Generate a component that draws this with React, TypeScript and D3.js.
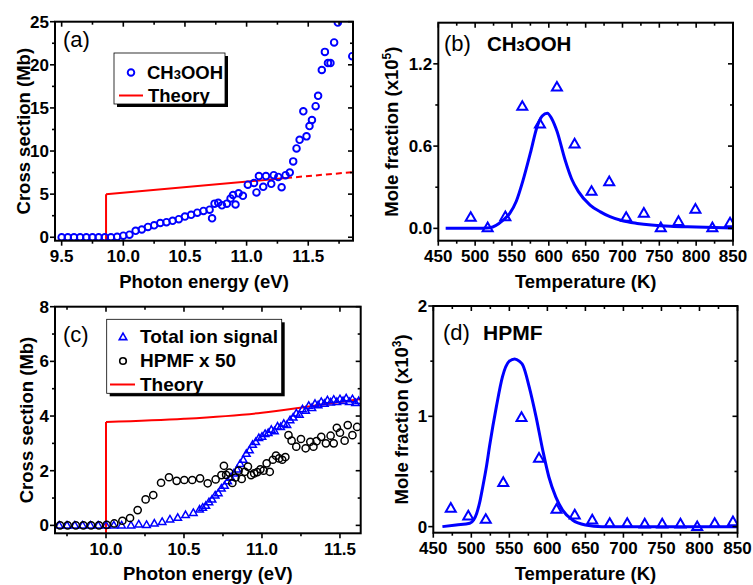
import React from 'react';
import * as d3 from 'd3';

const FONT = '"Liberation Sans", Arial, Helvetica, sans-serif';
const BLUE = '#0000ff';
const RED = '#ff0000';

// ---------- Panel (a) ----------
const aEnergy = [9.50, 9.55, 9.60, 9.65, 9.70, 9.75, 9.80, 9.85, 9.90, 9.95, 10.00, 10.05, 10.10, 10.15, 10.20, 10.25, 10.30, 10.35, 10.40, 10.45, 10.50, 10.55, 10.60, 10.65, 10.70, 10.72, 10.74, 10.77, 10.80, 10.84, 10.87, 10.89, 10.91, 10.935, 10.97, 11.01, 11.06, 11.08, 11.10, 11.135, 11.157, 11.20, 11.22, 11.257, 11.284, 11.316, 11.35, 11.378, 11.405, 11.43, 11.46, 11.486, 11.51, 11.53, 11.56, 11.58, 11.61, 11.635, 11.66, 11.68, 11.71, 11.74, 11.857];
const aCross = [0, 0, 0, 0, 0, 0, 0, 0, 0, 0.05, 0.18, 0.3, 0.75, 0.9, 1.2, 1.38, 1.65, 1.75, 1.9, 2.1, 2.4, 2.6, 2.85, 3.05, 3.2, 2.2, 3.9, 4.0, 3.7, 3.9, 4.5, 4.9, 3.8, 5.1, 4.8, 6.1, 6.3, 5.2, 7.1, 5.85, 7.1, 6.2, 7.2, 7.0, 5.8, 7.2, 7.5, 8.8, 10.3, 11.3, 14.6, 11.7, 12.9, 13.6, 15.2, 16.4, 19.4, 21.5, 20.2, 20.2, 22.6, 24.9, 21.0];
const aTheorySolidE = [9.86, 11.32];
const aTheorySolidY = [5.0, 6.87];
const aTheoryDashE = [11.32, 11.86];
const aTheoryDashY = [6.87, 7.55];
const aXTicks = [9.5, 10.0, 10.5, 11.0, 11.5];
const aXMinor = [9.75, 10.25, 10.75, 11.25, 11.75];
const aYTicks = [0, 5, 10, 15, 20, 25];
const aYMinor = [2.5, 7.5, 12.5, 17.5, 22.5];

// ---------- Panel (b) ----------
const bTemp = [494, 517, 541, 564, 588, 611, 635, 658, 682, 705, 729, 752, 776, 799, 822, 846];
const bMole = [0.08, 0.005, 0.085, 0.89, 0.76, 1.03, 0.615, 0.27, 0.34, 0.08, 0.11, 0.005, 0.05, 0.14, 0.005, 0.04];
const bFitT = [460, 500, 520, 538, 547, 556, 565, 575, 584, 591, 598, 604, 611, 622, 631, 640, 656, 670, 683, 700, 720, 765, 800, 850];
const bFitY = [0, 0, 0.005, 0.06, 0.11, 0.2, 0.35, 0.55, 0.74, 0.82, 0.84, 0.8, 0.71, 0.5, 0.36, 0.27, 0.17, 0.12, 0.085, 0.055, 0.036, 0.015, 0.01, 0.003];
const bXTicks = [450, 500, 550, 600, 650, 700, 750, 800, 850];
const bXMinor = [475, 525, 575, 625, 675, 725, 775, 825];
const bYTicks = [0, 0.6, 1.2];
const bYMinor = [0.3, 0.9];

// ---------- Panel (c) ----------
const cTotalE = [9.70, 9.75, 9.80, 9.85, 9.90, 9.95, 10.00, 10.05, 10.10, 10.16, 10.21, 10.26, 10.31, 10.36, 10.41, 10.46, 10.51, 10.56, 10.60, 10.62, 10.64, 10.66, 10.68, 10.70, 10.72, 10.74, 10.76, 10.78, 10.80, 10.82, 10.84, 10.86, 10.88, 10.90, 10.92, 10.94, 10.96, 10.98, 11.00, 11.02, 11.04, 11.06, 11.08, 11.10, 11.12, 11.14, 11.16, 11.18, 11.20, 11.22, 11.24, 11.26, 11.28, 11.30, 11.32, 11.34, 11.36, 11.38, 11.40, 11.42, 11.44, 11.46, 11.48, 11.50, 11.52, 11.54, 11.56, 11.58, 11.60, 11.62];
const cTotalY = [0, 0, 0, 0, 0, 0, 0, 0, 0, 0, 0.04, 0.02, 0.07, 0.13, 0.22, 0.28, 0.38, 0.46, 0.58, 0.65, 0.72, 0.85, 0.95, 1.1, 1.18, 1.35, 1.45, 1.62, 1.75, 1.9, 2.05, 2.25, 2.4, 2.62, 2.75, 2.95, 3.05, 3.2, 3.25, 3.35, 3.38, 3.5, 3.45, 3.62, 3.6, 3.72, 3.68, 3.85, 3.95, 4.1, 4.05, 4.25, 4.2, 4.38, 4.3, 4.45, 4.4, 4.52, 4.45, 4.58, 4.5, 4.6, 4.52, 4.62, 4.55, 4.65, 4.52, 4.62, 4.48, 4.55];
const cHpmfE = [9.705, 9.754, 9.806, 9.855, 9.904, 9.955, 10.004, 10.053, 10.105, 10.154, 10.203, 10.254, 10.303, 10.353, 10.404, 10.453, 10.502, 10.553, 10.603, 10.652, 10.703, 10.74, 10.756, 10.77, 10.79, 10.81, 10.83, 10.85, 10.87, 10.89, 10.91, 10.93, 10.95, 10.97, 10.99, 11.01, 11.03, 11.05, 11.07, 11.09, 11.11, 11.13, 11.15, 11.17, 11.19, 11.22, 11.25, 11.28, 11.31, 11.33, 11.35, 11.38, 11.41, 11.44, 11.46, 11.48, 11.50, 11.53, 11.55, 11.58, 11.61];
const cHpmfY = [0, 0, 0, 0, 0, 0, 0.02, 0.07, 0.17, 0.27, 0.56, 0.95, 1.11, 1.56, 1.76, 1.63, 1.66, 1.66, 1.72, 1.54, 1.68, 1.84, 2.18, 1.85, 1.93, 1.55, 1.75, 2.0, 1.7, 1.96, 2.15, 1.84, 1.9, 1.95, 2.05, 2.0, 2.27, 1.96, 2.4, 2.55, 2.45, 2.4, 2.5, 3.3, 3.1, 2.88, 3.16, 2.82, 3.06, 2.88, 3.08, 3.24, 3.0, 3.28, 3.0, 3.57, 3.39, 3.1, 3.67, 3.3, 3.6];
const cTheoryE = [10.0, 10.5, 11.0, 11.3, 11.633];
const cTheoryY = [3.78, 3.9, 4.12, 4.35, 4.62];
const cXTicks = [10.0, 10.5, 11.0, 11.5];
const cXMinor = [9.75, 10.25, 10.75, 11.25];
const cYTicks = [0, 2, 4, 6, 8];
const cYMinor = [1, 3, 5, 7];

// ---------- Panel (d) ----------
const dTemp = [473, 496, 519, 542, 566, 589, 612, 636, 659, 682, 705, 728, 751, 775, 797, 820, 844];
const dMole = [0.166, 0.097, 0.066, 0.40, 0.99, 0.62, 0.157, 0.106, 0.06, 0.03, 0.03, 0.024, 0.024, 0.024, 0.0, 0.03, 0.045];
const dFitT = [462, 480, 498, 503, 507, 511, 515, 520, 524, 533, 541, 550, 557, 563, 568, 576, 585, 594, 602, 611, 620, 633, 650, 672, 850];
const dFitY = [0, 0.015, 0.03, 0.06, 0.12, 0.22, 0.36, 0.55, 0.73, 1.09, 1.36, 1.5, 1.52, 1.5, 1.46, 1.27, 1.0, 0.69, 0.45, 0.27, 0.15, 0.06, 0.015, 0.0, 0.0];
const dXTicks = [450, 500, 550, 600, 650, 700, 750, 800, 850];
const dXMinor = [475, 525, 575, 625, 675, 725, 775, 825];
const dYTicks = [0, 1, 2];
const dYMinor = [0.5, 1.5];

type Box = { l: number; r: number; t: number; b: number };

const TICK_FS = 17;
const TITLE_FS = 18.5;

function triPath(s: number) {
  const h = (s * Math.sqrt(3)) / 2;
  return `M0,${-h * 0.6}L${s / 2},${h * 0.4}L${-s / 2},${h * 0.4}Z`;
}

function Frame(props: {
  id: string;
  box: Box;
  x: d3.ScaleLinear<number, number>;
  y: d3.ScaleLinear<number, number>;
  xTicks: number[];
  xMinor: number[];
  yTicks: number[];
  yMinor: number[];
  xFmt: (v: number) => string;
  yFmt: (v: number) => string;
  xTitle: string;
  yTitle: React.ReactNode;
  yTitleX: number;
  children?: React.ReactNode;
}) {
  const { id, box, x, y, xTicks, xMinor, yTicks, yMinor, xFmt, yFmt, xTitle, yTitle, yTitleX } = props;
  const tk = { stroke: '#000', strokeWidth: 1.6 };
  return (
    <g>
      <defs>
        <clipPath id={id}>
          <rect x={box.l} y={box.t} width={box.r - box.l} height={box.b - box.t} />
        </clipPath>
      </defs>
      <g clipPath={`url(#${id})`}>{props.children}</g>
      <rect x={box.l} y={box.t} width={box.r - box.l} height={box.b - box.t} fill="none" stroke="#000" strokeWidth={2} />
      {xTicks.map((v) => (
        <g key={'xt' + v}>
          <line x1={x(v)} x2={x(v)} y1={box.b} y2={box.b + 5} {...tk} />
          <line x1={x(v)} x2={x(v)} y1={box.t} y2={box.t + 5} {...tk} />
          <text x={x(v)} y={box.b + 21.5} textAnchor="middle" fontSize={TICK_FS} fontWeight="bold" fontFamily={FONT}>
            {xFmt(v)}
          </text>
        </g>
      ))}
      {xMinor.map((v) => (
        <g key={'xm' + v}>
          <line x1={x(v)} x2={x(v)} y1={box.b} y2={box.b + 3} {...tk} />
          <line x1={x(v)} x2={x(v)} y1={box.t} y2={box.t + 3} {...tk} />
        </g>
      ))}
      {yTicks.map((v) => (
        <g key={'yt' + v}>
          <line x1={box.l} x2={box.l - 5} y1={y(v)} y2={y(v)} {...tk} />
          <line x1={box.r} x2={box.r - 5} y1={y(v)} y2={y(v)} {...tk} />
          <text x={box.l - 6} y={y(v)} dy="0.36em" textAnchor="end" fontSize={TICK_FS} fontWeight="bold" fontFamily={FONT}>
            {yFmt(v)}
          </text>
        </g>
      ))}
      {yMinor.map((v) => (
        <g key={'ym' + v}>
          <line x1={box.l} x2={box.l - 3} y1={y(v)} y2={y(v)} {...tk} />
          <line x1={box.r} x2={box.r - 3} y1={y(v)} y2={y(v)} {...tk} />
        </g>
      ))}
      <text x={(box.l + box.r) / 2} y={box.b + 47} textAnchor="middle" fontSize={TITLE_FS} fontWeight="bold" fontFamily={FONT}>
        {xTitle}
      </text>
      <text
        transform={`translate(${yTitleX},${(box.t + box.b) / 2}) rotate(-90)`}
        textAnchor="middle"
        dy="0.36em"
        fontSize={TITLE_FS}
        fontWeight="bold"
        fontFamily={FONT}
      >
        {yTitle}
      </text>
    </g>
  );
}

function LegendBox({ x0, y0, x1, y1 }: { x0: number; y0: number; x1: number; y1: number }) {
  return (
    <g>
      <rect x={x0 + 3} y={y0 + 3} width={x1 - x0} height={y1 - y0} fill="#000" />
      <rect x={x0} y={y0} width={x1 - x0} height={y1 - y0} fill="#fff" stroke="#000" strokeWidth={0.8} />
    </g>
  );
}

export default function App() {
  // Panel a
  const aBox: Box = { l: 55, r: 353, t: 21.7, b: 240.7 };
  const ax = d3.scaleLinear().domain([9.446, 11.863]).range([aBox.l, aBox.r]);
  const ay = d3.scaleLinear().domain([-0.4, 25]).range([aBox.b, aBox.t]);
  const aLine = d3.line<number>().x((d, i) => ax(aTheorySolidE[i])).y((d) => ay(d));
  const aDash = d3.line<number>().x((d, i) => ax(aTheoryDashE[i])).y((d) => ay(d));

  // Panel b
  const bBox: Box = { l: 438.3, r: 733, t: 22.7, b: 240.7 };
  const bx = d3.scaleLinear().domain([450, 850]).range([bBox.l, bBox.r]);
  const by = d3.scaleLinear().domain([-0.09, 1.5]).range([bBox.b, bBox.t]);
  const bLine = d3
    .line<number>()
    .x((d, i) => bx(bFitT[i]))
    .y((d) => by(d))
    .curve(d3.curveMonotoneX);

  // Panel c
  const cBox: Box = { l: 55, r: 360.7, t: 306.7, b: 533.3 };
  const cx = d3.scaleLinear().domain([9.673, 11.633]).range([cBox.l, cBox.r]);
  const cy = d3.scaleLinear().domain([-0.29, 8]).range([cBox.b, cBox.t]);
  const cLine = d3
    .line<number>()
    .x((d, i) => cx(cTheoryE[i]))
    .y((d) => cy(d))
    .curve(d3.curveMonotoneX);

  // Panel d
  const dBox: Box = { l: 433.3, r: 737.5, t: 306, b: 532.7 };
  const dx = d3.scaleLinear().domain([450, 850]).range([dBox.l, dBox.r]);
  const dy = d3.scaleLinear().domain([-0.055, 2]).range([dBox.b, dBox.t]);
  const dLine = d3
    .line<number>()
    .x((d, i) => dx(dFitT[i]))
    .y((d) => dy(d))
    .curve(d3.curveMonotoneX);

  const f1 = (v: number) => v.toFixed(1);
  const f0 = (v: number) => String(v);

  const moleTitle = (exp: string) => (
    <>
      Mole fraction (x10
      <tspan dy={-7} fontSize={12}>
        {exp}
      </tspan>
      <tspan dy={7}>)</tspan>
    </>
  );

  const bigTri = triPath(10);
  const smallTri = triPath(7.5);

  return (
    <svg width={753} height={585} style={{ position: 'absolute', left: 0, top: 0, background: '#fff' }} fontFamily={FONT}>
      <rect x={0} y={0} width={753} height={585} fill="#fff" />

      {/* Panel (a) */}
      <Frame
        id="clipA"
        box={aBox}
        x={ax}
        y={ay}
        xTicks={aXTicks}
        xMinor={aXMinor}
        yTicks={aYTicks}
        yMinor={aYMinor}
        xFmt={f1}
        yFmt={f0}
        xTitle="Photon energy (eV)"
        yTitle="Cross section (Mb)"
        yTitleX={23}
      >
        <line x1={ax(aTheorySolidE[0])} x2={ax(aTheorySolidE[0])} y1={aBox.b} y2={ay(aTheorySolidY[0])} stroke={RED} strokeWidth={2} />
        <path d={aLine(aTheorySolidY) || ''} fill="none" stroke={RED} strokeWidth={2} />
        <path d={aDash(aTheoryDashY) || ''} fill="none" stroke={RED} strokeWidth={2} strokeDasharray="6,4" />
        {aEnergy.map((e, i) => (
          <circle key={i} cx={ax(e)} cy={ay(aCross[i])} r={3.3} fill="none" stroke={BLUE} strokeWidth={1.9} />
        ))}
      </Frame>
      <text x={63} y={47} fontSize={22} fontFamily={FONT}>
        (a)
      </text>
      <LegendBox x0={114} y0={53} x1={225} y1={104} />
      <circle cx={131} cy={72.5} r={3.3} fill="none" stroke={BLUE} strokeWidth={1.9} />
      <text x={147} y={78.5} fontSize={18.5} fontWeight="bold" fontFamily={FONT}>
        CH<tspan fontSize={13}>3</tspan>OOH
      </text>
      <line x1={119} x2={143} y1={95.5} y2={95.5} stroke={RED} strokeWidth={2} />
      <text x={148} y={101.5} fontSize={18.5} fontWeight="bold" fontFamily={FONT}>
        Theory
      </text>

      {/* Panel (b) */}
      <Frame
        id="clipB"
        box={bBox}
        x={bx}
        y={by}
        xTicks={bXTicks}
        xMinor={bXMinor}
        yTicks={bYTicks}
        yMinor={bYMinor}
        xFmt={f0}
        yFmt={f1}
        xTitle="Temperature (K)"
        yTitle={moleTitle('5')}
        yTitleX={391}
      >
        <path d={bLine(bFitY) || ''} fill="none" stroke={BLUE} strokeWidth={3} />
        {bTemp.map((t, i) => (
          <path key={i} d={bigTri} transform={`translate(${bx(t)},${by(bMole[i])})`} fill="none" stroke={BLUE} strokeWidth={2} />
        ))}
      </Frame>
      <text x={444} y={51} fontSize={22} fontFamily={FONT}>
        (b)
      </text>
      <text x={487} y={51} fontSize={20.5} fontWeight="bold" fontFamily={FONT}>
        CH<tspan fontSize={14.5}>3</tspan>OOH
      </text>

      {/* Panel (c) */}
      <Frame
        id="clipC"
        box={cBox}
        x={cx}
        y={cy}
        xTicks={cXTicks}
        xMinor={cXMinor}
        yTicks={cYTicks}
        yMinor={cYMinor}
        xFmt={f1}
        yFmt={f0}
        xTitle="Photon energy (eV)"
        yTitle="Cross section (Mb)"
        yTitleX={26}
      >
        <line x1={cx(cTheoryE[0])} x2={cx(cTheoryE[0])} y1={cBox.b} y2={cy(cTheoryY[0])} stroke={RED} strokeWidth={2} />
        <path d={cLine(cTheoryY) || ''} fill="none" stroke={RED} strokeWidth={2} />
        {cTotalE.map((e, i) => (
          <path key={'t' + i} d={smallTri} transform={`translate(${cx(e)},${cy(cTotalY[i])})`} fill="none" stroke={BLUE} strokeWidth={1.5} />
        ))}
        {cHpmfE.map((e, i) => (
          <circle key={'h' + i} cx={cx(e)} cy={cy(cHpmfY[i])} r={3.6} fill="none" stroke="#000" strokeWidth={1.5} />
        ))}
      </Frame>
      <text x={63} y={342} fontSize={22} fontFamily={FONT}>
        (c)
      </text>
      <LegendBox x0={106.7} y0={319.3} x1={281.7} y1={393.3} />
      <path d={smallTri} transform="translate(123,337)" fill="none" stroke={BLUE} strokeWidth={1.6} />
      <text x={140} y={343} fontSize={19} fontWeight="bold" fontFamily={FONT}>
        Total ion signal
      </text>
      <circle cx={123} cy={361} r={3.3} fill="none" stroke="#000" strokeWidth={1.6} />
      <text x={140} y={367} fontSize={19} fontWeight="bold" fontFamily={FONT}>
        HPMF x 50
      </text>
      <line x1={110} x2={135} y1={384.5} y2={384.5} stroke={RED} strokeWidth={2} />
      <text x={140} y={391} fontSize={19} fontWeight="bold" fontFamily={FONT}>
        Theory
      </text>

      {/* Panel (d) */}
      <Frame
        id="clipD"
        box={dBox}
        x={dx}
        y={dy}
        xTicks={dXTicks}
        xMinor={dXMinor}
        yTicks={dYTicks}
        yMinor={dYMinor}
        xFmt={f0}
        yFmt={f0}
        xTitle="Temperature (K)"
        yTitle={moleTitle('3')}
        yTitleX={401}
      >
        <path d={dLine(dFitY) || ''} fill="none" stroke={BLUE} strokeWidth={3} />
        {dTemp.map((t, i) => (
          <path key={i} d={bigTri} transform={`translate(${dx(t)},${dy(dMole[i])})`} fill="none" stroke={BLUE} strokeWidth={2} />
        ))}
      </Frame>
      <text x={443} y={340} fontSize={22} fontFamily={FONT}>
        (d)
      </text>
      <text x={483} y={340} fontSize={21} fontWeight="bold" fontFamily={FONT}>
        HPMF
      </text>
    </svg>
  );
}
